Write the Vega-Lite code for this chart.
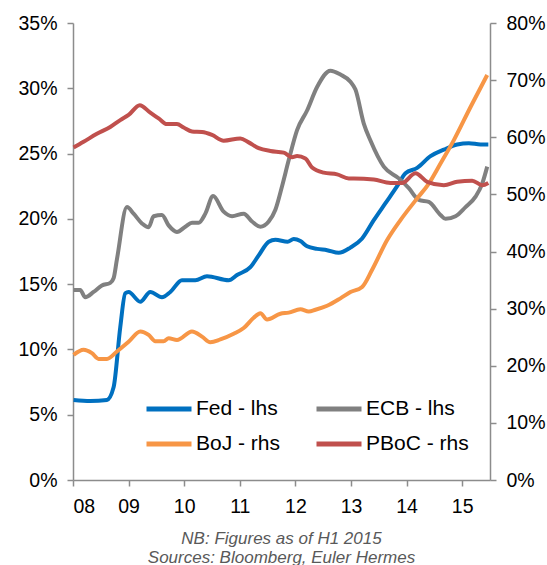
{
  "$schema": "https://vega.github.io/schema/vega-lite/v6.json",
  "width": 417,
  "height": 457,
  "autosize": {"type": "none"},
  "padding": {"left": 73, "top": 23, "right": 57, "bottom": 85},
  "background": "white",
  "title": {
    "text": ["NB: Figures as of H1 2015", "Sources: Bloomberg, Euler Hermes"],
    "orient": "bottom",
    "anchor": "middle",
    "font": "Liberation Sans",
    "fontSize": 17,
    "fontStyle": "italic",
    "fontWeight": "normal",
    "color": "#595959",
    "lineHeight": 19,
    "offset": 15
  },
  "data": {
    "values": [
      {"s": "Fed - lhs", "a": "l", "t": 2008.01, "v": 6.13},
      {"s": "Fed - lhs", "a": "l", "t": 2008.31, "v": 6.05},
      {"s": "Fed - lhs", "a": "l", "t": 2008.61, "v": 6.13},
      {"s": "Fed - lhs", "a": "l", "t": 2008.73, "v": 7.1},
      {"s": "Fed - lhs", "a": "l", "t": 2008.85, "v": 11.7},
      {"s": "Fed - lhs", "a": "l", "t": 2008.94, "v": 14.3},
      {"s": "Fed - lhs", "a": "l", "t": 2009.0, "v": 14.4},
      {"s": "Fed - lhs", "a": "l", "t": 2009.21, "v": 13.65},
      {"s": "Fed - lhs", "a": "l", "t": 2009.39, "v": 14.4},
      {"s": "Fed - lhs", "a": "l", "t": 2009.6, "v": 14.0},
      {"s": "Fed - lhs", "a": "l", "t": 2009.75, "v": 14.4},
      {"s": "Fed - lhs", "a": "l", "t": 2009.96, "v": 15.3},
      {"s": "Fed - lhs", "a": "l", "t": 2010.2, "v": 15.3},
      {"s": "Fed - lhs", "a": "l", "t": 2010.41, "v": 15.6},
      {"s": "Fed - lhs", "a": "l", "t": 2010.8, "v": 15.3},
      {"s": "Fed - lhs", "a": "l", "t": 2010.95, "v": 15.7},
      {"s": "Fed - lhs", "a": "l", "t": 2011.19, "v": 16.3},
      {"s": "Fed - lhs", "a": "l", "t": 2011.34, "v": 17.2},
      {"s": "Fed - lhs", "a": "l", "t": 2011.52, "v": 18.25},
      {"s": "Fed - lhs", "a": "l", "t": 2011.64, "v": 18.4},
      {"s": "Fed - lhs", "a": "l", "t": 2011.86, "v": 18.25},
      {"s": "Fed - lhs", "a": "l", "t": 2011.97, "v": 18.45},
      {"s": "Fed - lhs", "a": "l", "t": 2012.09, "v": 18.3},
      {"s": "Fed - lhs", "a": "l", "t": 2012.21, "v": 17.9},
      {"s": "Fed - lhs", "a": "l", "t": 2012.39, "v": 17.7},
      {"s": "Fed - lhs", "a": "l", "t": 2012.57, "v": 17.6},
      {"s": "Fed - lhs", "a": "l", "t": 2012.78, "v": 17.4},
      {"s": "Fed - lhs", "a": "l", "t": 2012.99, "v": 17.8},
      {"s": "Fed - lhs", "a": "l", "t": 2013.2, "v": 18.5},
      {"s": "Fed - lhs", "a": "l", "t": 2013.41, "v": 19.9},
      {"s": "Fed - lhs", "a": "l", "t": 2013.62, "v": 21.2},
      {"s": "Fed - lhs", "a": "l", "t": 2013.83, "v": 22.5},
      {"s": "Fed - lhs", "a": "l", "t": 2013.98, "v": 23.5},
      {"s": "Fed - lhs", "a": "l", "t": 2014.19, "v": 23.9},
      {"s": "Fed - lhs", "a": "l", "t": 2014.43, "v": 24.8},
      {"s": "Fed - lhs", "a": "l", "t": 2014.67, "v": 25.3},
      {"s": "Fed - lhs", "a": "l", "t": 2014.91, "v": 25.7},
      {"s": "Fed - lhs", "a": "l", "t": 2015.12, "v": 25.8},
      {"s": "Fed - lhs", "a": "l", "t": 2015.33, "v": 25.7},
      {"s": "Fed - lhs", "a": "l", "t": 2015.47, "v": 25.7},

      {"s": "ECB - lhs", "a": "l", "t": 2008.01, "v": 14.55},
      {"s": "ECB - lhs", "a": "l", "t": 2008.13, "v": 14.55},
      {"s": "ECB - lhs", "a": "l", "t": 2008.22, "v": 14.0},
      {"s": "ECB - lhs", "a": "l", "t": 2008.37, "v": 14.4},
      {"s": "ECB - lhs", "a": "l", "t": 2008.52, "v": 14.9},
      {"s": "ECB - lhs", "a": "l", "t": 2008.67, "v": 15.1},
      {"s": "ECB - lhs", "a": "l", "t": 2008.73, "v": 15.45},
      {"s": "ECB - lhs", "a": "l", "t": 2008.79, "v": 16.9},
      {"s": "ECB - lhs", "a": "l", "t": 2008.97, "v": 20.9},
      {"s": "ECB - lhs", "a": "l", "t": 2009.09, "v": 20.4},
      {"s": "ECB - lhs", "a": "l", "t": 2009.24, "v": 19.65},
      {"s": "ECB - lhs", "a": "l", "t": 2009.36, "v": 19.35},
      {"s": "ECB - lhs", "a": "l", "t": 2009.45, "v": 20.2},
      {"s": "ECB - lhs", "a": "l", "t": 2009.6, "v": 20.3},
      {"s": "ECB - lhs", "a": "l", "t": 2009.72, "v": 19.5},
      {"s": "ECB - lhs", "a": "l", "t": 2009.87, "v": 19.0},
      {"s": "ECB - lhs", "a": "l", "t": 2010.02, "v": 19.4},
      {"s": "ECB - lhs", "a": "l", "t": 2010.14, "v": 19.7},
      {"s": "ECB - lhs", "a": "l", "t": 2010.26, "v": 19.7},
      {"s": "ECB - lhs", "a": "l", "t": 2010.38, "v": 20.4},
      {"s": "ECB - lhs", "a": "l", "t": 2010.52, "v": 21.75},
      {"s": "ECB - lhs", "a": "l", "t": 2010.71, "v": 20.55},
      {"s": "ECB - lhs", "a": "l", "t": 2010.86, "v": 20.2},
      {"s": "ECB - lhs", "a": "l", "t": 2011.07, "v": 20.4},
      {"s": "ECB - lhs", "a": "l", "t": 2011.22, "v": 19.8},
      {"s": "ECB - lhs", "a": "l", "t": 2011.37, "v": 19.4},
      {"s": "ECB - lhs", "a": "l", "t": 2011.52, "v": 19.8},
      {"s": "ECB - lhs", "a": "l", "t": 2011.64, "v": 20.7},
      {"s": "ECB - lhs", "a": "l", "t": 2011.76, "v": 22.5},
      {"s": "ECB - lhs", "a": "l", "t": 2011.88, "v": 24.5},
      {"s": "ECB - lhs", "a": "l", "t": 2012.03, "v": 26.8},
      {"s": "ECB - lhs", "a": "l", "t": 2012.21, "v": 28.3},
      {"s": "ECB - lhs", "a": "l", "t": 2012.39, "v": 30.1},
      {"s": "ECB - lhs", "a": "l", "t": 2012.63, "v": 31.35},
      {"s": "ECB - lhs", "a": "l", "t": 2012.81, "v": 31.05},
      {"s": "ECB - lhs", "a": "l", "t": 2012.99, "v": 30.5},
      {"s": "ECB - lhs", "a": "l", "t": 2013.08, "v": 29.9},
      {"s": "ECB - lhs", "a": "l", "t": 2013.23, "v": 27.3},
      {"s": "ECB - lhs", "a": "l", "t": 2013.35, "v": 26.0},
      {"s": "ECB - lhs", "a": "l", "t": 2013.59, "v": 24.0},
      {"s": "ECB - lhs", "a": "l", "t": 2013.86, "v": 23.1},
      {"s": "ECB - lhs", "a": "l", "t": 2014.04, "v": 22.35},
      {"s": "ECB - lhs", "a": "l", "t": 2014.22, "v": 21.45},
      {"s": "ECB - lhs", "a": "l", "t": 2014.4, "v": 21.3},
      {"s": "ECB - lhs", "a": "l", "t": 2014.61, "v": 20.3},
      {"s": "ECB - lhs", "a": "l", "t": 2014.7, "v": 20.0},
      {"s": "ECB - lhs", "a": "l", "t": 2014.88, "v": 20.2},
      {"s": "ECB - lhs", "a": "l", "t": 2015.06, "v": 20.9},
      {"s": "ECB - lhs", "a": "l", "t": 2015.24, "v": 21.7},
      {"s": "ECB - lhs", "a": "l", "t": 2015.36, "v": 22.7},
      {"s": "ECB - lhs", "a": "l", "t": 2015.45, "v": 24.0},

      {"s": "BoJ - rhs", "a": "r", "t": 2008.01, "v": 21.9},
      {"s": "BoJ - rhs", "a": "r", "t": 2008.19, "v": 22.8},
      {"s": "BoJ - rhs", "a": "r", "t": 2008.34, "v": 22.2},
      {"s": "BoJ - rhs", "a": "r", "t": 2008.46, "v": 21.2},
      {"s": "BoJ - rhs", "a": "r", "t": 2008.61, "v": 21.2},
      {"s": "BoJ - rhs", "a": "r", "t": 2008.79, "v": 22.5},
      {"s": "BoJ - rhs", "a": "r", "t": 2009.0, "v": 24.2},
      {"s": "BoJ - rhs", "a": "r", "t": 2009.21, "v": 26.0},
      {"s": "BoJ - rhs", "a": "r", "t": 2009.36, "v": 25.4},
      {"s": "BoJ - rhs", "a": "r", "t": 2009.48, "v": 24.3},
      {"s": "BoJ - rhs", "a": "r", "t": 2009.63, "v": 24.3},
      {"s": "BoJ - rhs", "a": "r", "t": 2009.72, "v": 24.8},
      {"s": "BoJ - rhs", "a": "r", "t": 2009.87, "v": 24.5},
      {"s": "BoJ - rhs", "a": "r", "t": 2010.14, "v": 26.0},
      {"s": "BoJ - rhs", "a": "r", "t": 2010.32, "v": 25.1},
      {"s": "BoJ - rhs", "a": "r", "t": 2010.47, "v": 24.1},
      {"s": "BoJ - rhs", "a": "r", "t": 2010.65, "v": 24.6},
      {"s": "BoJ - rhs", "a": "r", "t": 2010.89, "v": 25.6},
      {"s": "BoJ - rhs", "a": "r", "t": 2011.07, "v": 26.6},
      {"s": "BoJ - rhs", "a": "r", "t": 2011.25, "v": 28.4},
      {"s": "BoJ - rhs", "a": "r", "t": 2011.37, "v": 29.2},
      {"s": "BoJ - rhs", "a": "r", "t": 2011.49, "v": 28.1},
      {"s": "BoJ - rhs", "a": "r", "t": 2011.73, "v": 29.1},
      {"s": "BoJ - rhs", "a": "r", "t": 2011.88, "v": 29.3},
      {"s": "BoJ - rhs", "a": "r", "t": 2012.09, "v": 29.9},
      {"s": "BoJ - rhs", "a": "r", "t": 2012.24, "v": 29.5},
      {"s": "BoJ - rhs", "a": "r", "t": 2012.36, "v": 29.8},
      {"s": "BoJ - rhs", "a": "r", "t": 2012.57, "v": 30.5},
      {"s": "BoJ - rhs", "a": "r", "t": 2012.81, "v": 31.8},
      {"s": "BoJ - rhs", "a": "r", "t": 2012.99, "v": 32.9},
      {"s": "BoJ - rhs", "a": "r", "t": 2013.2, "v": 33.8},
      {"s": "BoJ - rhs", "a": "r", "t": 2013.38, "v": 36.8},
      {"s": "BoJ - rhs", "a": "r", "t": 2013.65, "v": 42.0},
      {"s": "BoJ - rhs", "a": "r", "t": 2013.89, "v": 45.5},
      {"s": "BoJ - rhs", "a": "r", "t": 2014.19, "v": 49.3},
      {"s": "BoJ - rhs", "a": "r", "t": 2014.4, "v": 51.9},
      {"s": "BoJ - rhs", "a": "r", "t": 2014.61, "v": 55.4},
      {"s": "BoJ - rhs", "a": "r", "t": 2014.85, "v": 59.5},
      {"s": "BoJ - rhs", "a": "r", "t": 2015.15, "v": 65.3},
      {"s": "BoJ - rhs", "a": "r", "t": 2015.45, "v": 70.9},

      {"s": "PBoC - rhs", "a": "r", "t": 2008.01, "v": 58.2},
      {"s": "PBoC - rhs", "a": "r", "t": 2008.19, "v": 59.2},
      {"s": "PBoC - rhs", "a": "r", "t": 2008.43, "v": 60.6},
      {"s": "PBoC - rhs", "a": "r", "t": 2008.67, "v": 61.8},
      {"s": "PBoC - rhs", "a": "r", "t": 2008.85, "v": 63.0},
      {"s": "PBoC - rhs", "a": "r", "t": 2009.0, "v": 63.9},
      {"s": "PBoC - rhs", "a": "r", "t": 2009.2, "v": 65.6},
      {"s": "PBoC - rhs", "a": "r", "t": 2009.39, "v": 64.3},
      {"s": "PBoC - rhs", "a": "r", "t": 2009.54, "v": 63.3},
      {"s": "PBoC - rhs", "a": "r", "t": 2009.69, "v": 62.3},
      {"s": "PBoC - rhs", "a": "r", "t": 2009.87, "v": 62.3},
      {"s": "PBoC - rhs", "a": "r", "t": 2009.99, "v": 61.7},
      {"s": "PBoC - rhs", "a": "r", "t": 2010.14, "v": 61.0},
      {"s": "PBoC - rhs", "a": "r", "t": 2010.32, "v": 60.9},
      {"s": "PBoC - rhs", "a": "r", "t": 2010.5, "v": 60.4},
      {"s": "PBoC - rhs", "a": "r", "t": 2010.71, "v": 59.4},
      {"s": "PBoC - rhs", "a": "r", "t": 2011.01, "v": 59.8},
      {"s": "PBoC - rhs", "a": "r", "t": 2011.16, "v": 59.1},
      {"s": "PBoC - rhs", "a": "r", "t": 2011.34, "v": 58.1},
      {"s": "PBoC - rhs", "a": "r", "t": 2011.55, "v": 57.6},
      {"s": "PBoC - rhs", "a": "r", "t": 2011.79, "v": 57.3},
      {"s": "PBoC - rhs", "a": "r", "t": 2011.94, "v": 56.5},
      {"s": "PBoC - rhs", "a": "r", "t": 2012.03, "v": 56.7},
      {"s": "PBoC - rhs", "a": "r", "t": 2012.18, "v": 56.3},
      {"s": "PBoC - rhs", "a": "r", "t": 2012.3, "v": 54.7},
      {"s": "PBoC - rhs", "a": "r", "t": 2012.51, "v": 53.8},
      {"s": "PBoC - rhs", "a": "r", "t": 2012.75, "v": 53.5},
      {"s": "PBoC - rhs", "a": "r", "t": 2012.96, "v": 52.8},
      {"s": "PBoC - rhs", "a": "r", "t": 2013.05, "v": 52.8},
      {"s": "PBoC - rhs", "a": "r", "t": 2013.41, "v": 52.6},
      {"s": "PBoC - rhs", "a": "r", "t": 2013.71, "v": 52.0},
      {"s": "PBoC - rhs", "a": "r", "t": 2013.92, "v": 52.0},
      {"s": "PBoC - rhs", "a": "r", "t": 2014.16, "v": 53.7},
      {"s": "PBoC - rhs", "a": "r", "t": 2014.37, "v": 52.2},
      {"s": "PBoC - rhs", "a": "r", "t": 2014.67, "v": 51.6},
      {"s": "PBoC - rhs", "a": "r", "t": 2014.91, "v": 52.2},
      {"s": "PBoC - rhs", "a": "r", "t": 2015.18, "v": 52.4},
      {"s": "PBoC - rhs", "a": "r", "t": 2015.36, "v": 51.6},
      {"s": "PBoC - rhs", "a": "r", "t": 2015.47, "v": 52.0}
    ]
  },
  "encoding": {
    "x": {
      "field": "t",
      "type": "quantitative",
      "scale": {"domain": [2008, 2015.5], "nice": false, "zero": false},
      "axis": {
        "title": null,
        "values": [2008, 2009, 2010, 2011, 2012, 2013, 2014, 2015],
        "labelExpr": "datum.value < 2010 ? '0' + (datum.value - 2000) : '' + (datum.value - 2000)",
        "labelPadding": 11
      }
    },
    "color": {
      "field": "s",
      "type": "nominal",
      "scale": {
        "domain": ["Fed - lhs", "BoJ - rhs", "ECB - lhs", "PBoC - rhs"],
        "range": ["#0070C0", "#F79646", "#808080", "#C0504D"]
      },
      "legend": {
        "title": null,
        "orient": "none",
        "legendX": 71,
        "legendY": 361,
        "columns": 2,
        "gridAlign": "each",
        "columnPadding": 25,
        "rowPadding": -3,
        "symbolType": "stroke",
        "symbolSize": 2025,
        "symbolStrokeWidth": 5,
        "labelFont": "Liberation Sans",
        "labelFontSize": 21,
        "labelColor": "#000000",
        "labelOffset": 2,
        "labelLimit": 300
      }
    }
  },
  "layer": [
    {
      "transform": [{"filter": "datum.a == 'l'"}],
      "mark": {"type": "line", "strokeWidth": 4, "interpolate": "monotone"},
      "encoding": {
        "y": {
          "field": "v",
          "type": "quantitative",
          "scale": {"domain": [0, 35], "nice": false},
          "axis": {
            "title": null,
            "orient": "left",
            "values": [0, 5, 10, 15, 20, 25, 30, 35],
            "labelExpr": "datum.value + '%'"
          }
        }
      }
    },
    {
      "transform": [{"filter": "datum.a == 'r'"}],
      "mark": {"type": "line", "strokeWidth": 4, "interpolate": "monotone"},
      "encoding": {
        "y": {
          "field": "v",
          "type": "quantitative",
          "scale": {"domain": [0, 80], "nice": false},
          "axis": {
            "title": null,
            "orient": "right",
            "values": [0, 10, 20, 30, 40, 50, 60, 70, 80],
            "labelExpr": "datum.value + '%'"
          }
        }
      }
    }
  ],
  "resolve": {"scale": {"y": "independent"}},
  "config": {
    "view": {"stroke": null},
    "axis": {
      "grid": false,
      "domainColor": "#8c8c8c",
      "domainWidth": 1.5,
      "tickColor": "#8c8c8c",
      "tickWidth": 1.5,
      "tickSize": 6,
      "labelFont": "Liberation Sans",
      "labelFontSize": 19.5,
      "labelColor": "#000000",
      "labelPadding": 10
    }
  }
}
